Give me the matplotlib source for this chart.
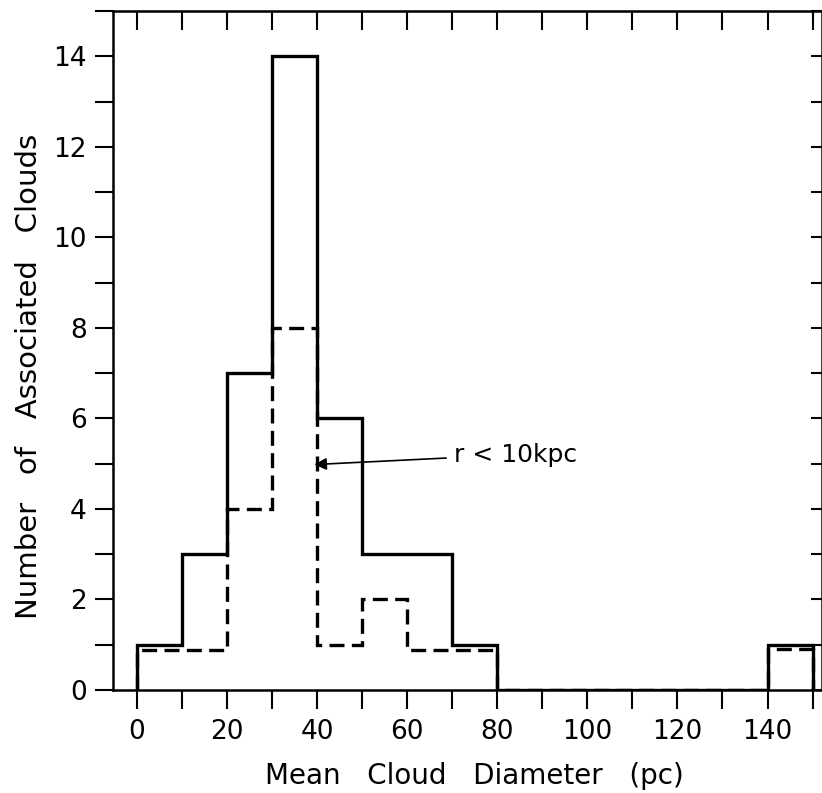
import matplotlib
matplotlib.use("Agg")
import matplotlib.pyplot as plt
import numpy as np

# bin edges (pc) and counts
bin_edges = np.arange(0, 160, 10)
all_clouds = [1, 3, 7, 14, 6, 3, 3, 1, 0, 0, 0, 0, 0, 0, 1]
inner_clouds = [0.88, 0.88, 4, 8, 1, 2, 0.88, 0.88, 0, 0, 0, 0, 0, 0, 0.9]   # r < 10 kpc

x_ticks = np.arange(0, 160, 10)
x_labels = [str(v) if v % 20 == 0 else "" for v in x_ticks]
y_ticks = np.arange(0, 16, 1)
y_labels = [str(v) if v % 2 == 0 else "" for v in y_ticks]

plt.rcParams["font.family"] = "DejaVu Sans"
fig = plt.figure(figsize=(8.22, 7.93), dpi=100)
ax = fig.add_axes([0.1375, 0.13, 0.862, 0.856])

ax.stairs(all_clouds, bin_edges, color="black", linewidth=2.4, baseline=0, zorder=3)
ax.stairs(inner_clouds, bin_edges, color="black", linewidth=2.4, baseline=0,
          linestyle=(0, (4.5, 2.2)), zorder=4)

ax.annotate("r < 10kpc", xy=(39.4, 4.98), xytext=(70.5, 5.2),
            fontsize=18, va="center", ha="left",
            arrowprops=dict(arrowstyle="-|>", color="black", lw=1.2,
                            shrinkA=4, shrinkB=0, mutation_scale=18))

ax.set_xlim(-5.3, 152)
ax.set_ylim(0, 15)
ax.set_xticks(x_ticks)
ax.set_xticklabels(x_labels, fontsize=19)
ax.set_yticks(y_ticks)
ax.set_yticklabels(y_labels, fontsize=19)

ax.tick_params(axis="x", direction="out", length=14, width=1.5, pad=7,
               top=False)
ax.tick_params(axis="y", direction="out", length=13, width=1.5, pad=6)
for s in ax.spines.values():
    s.set_linewidth(1.8)

# inward ticks on the top and right sides
top = ax.secondary_xaxis("top")
top.set_xticks(x_ticks)
top.set_xticklabels([])
top.tick_params(direction="in", length=14, width=1.5)
right = ax.secondary_yaxis("right")
right.set_yticks(y_ticks)
right.set_yticklabels([])
right.tick_params(direction="in", length=8, width=1.5)

ax.set_xlabel("Mean   Cloud   Diameter   (pc)", fontsize=20)
ax.xaxis.set_label_coords(0.51, -0.106)
ax.set_ylabel("Number   of   Associated   Clouds", fontsize=21)
ax.yaxis.set_label_coords(-0.099, 0.462)

fig.savefig("out.png", dpi=100)
